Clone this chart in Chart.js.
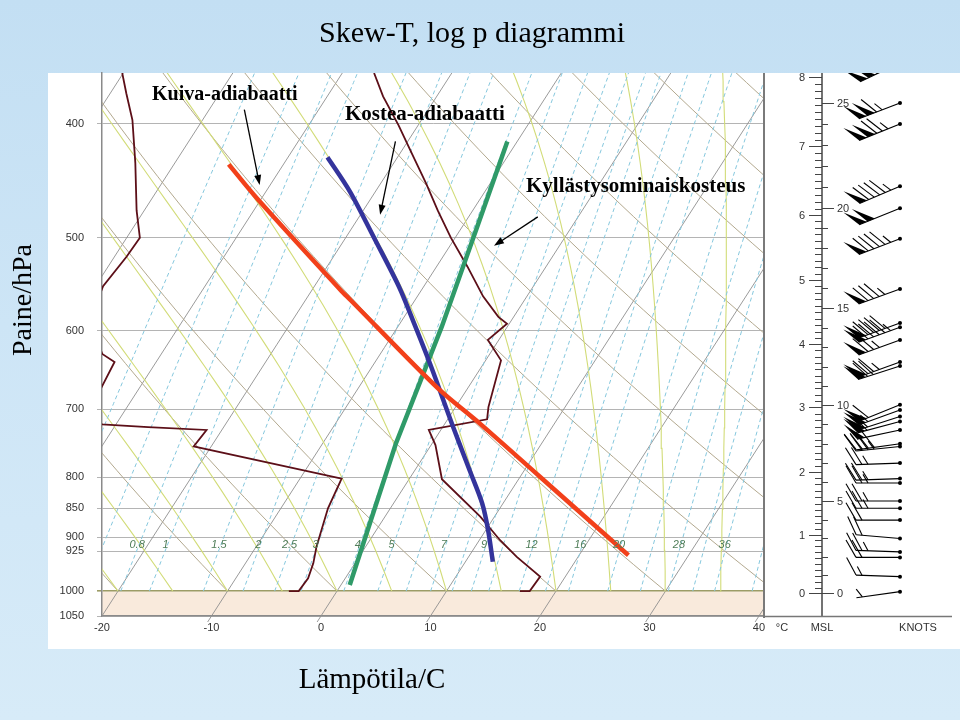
<!DOCTYPE html>
<html><head><meta charset="utf-8">
<script src="https://cdn.jsdelivr.net/npm/chart.js@4.4.1/dist/chart.umd.min.js"></script>
<style>
html,body{margin:0;padding:0;}
body{width:960px;height:720px;position:relative;overflow:hidden;background:linear-gradient(180deg,#c3dff3 0%,#cde5f6 45%,#d7ebf8 100%);font-family:"Liberation Serif","Times New Roman",serif;}
#panel{position:absolute;left:48px;top:73px;width:912px;height:576px;background:#fff;}
#c{position:absolute;left:0;top:0;}
.t{position:absolute;white-space:nowrap;color:#000;}
.a{font-weight:bold;}
</style></head><body>
<div id="panel"></div>
<canvas id="c" width="960" height="720"></canvas>
<div class="t" style="left:0;width:944px;text-align:center;top:17px;font-size:30px;line-height:30px;">Skew-T, log p diagrammi</div>
<div class="t" style="left:22px;top:300px;font-size:28px;line-height:28px;transform:translate(-50%,-50%) rotate(-90deg);">Paine/hPa</div>
<div class="t" style="left:0;width:744px;text-align:center;top:664px;font-size:29px;line-height:29px;">Lämpötila/C</div>
<div class="t a" style="left:152px;top:83px;font-size:20px;line-height:20px;">Kuiva-adiabaatti</div>
<div class="t a" style="left:345px;top:103px;font-size:21px;line-height:21px;">Kostea-adiabaatti</div>
<div class="t a" style="left:526px;top:175px;font-size:21px;line-height:21px;">Kyllästysominaiskosteus</div>
<script>
// ---------- data ----------
const pressureTicks = [400, 500, 600, 700, 800, 850, 900, 925, 1000, 1050];
const tempTicks = [-20, -10, 0, 10, 20, 30, 40];

// sounding temperature (hPa, °C)
const tempP = [362, 379, 401, 424, 450, 474, 500, 529, 561, 584, 592, 611, 636, 697, 714, 729, 751, 803, 864, 905, 935, 972, 1000, 1000];
const tempT = [-27.1, -24.9, -21.8, -18.9, -15.8, -13.2, -10.4, -7.2, -4.0, -1.4, -0.2, -1.0, 1.4, 3.0, 3.6, -1.1, 0.4, 3.0, 8.7, 11.9, 14.4, 17.7, 17.6, 16.7];
// sounding dew point (hPa, °C)
const dewP = [362, 377, 397, 432, 474, 500, 519, 550, 588, 628, 638, 670, 694, 721, 725, 729, 753, 802, 850, 916, 947, 975, 1000, 1000];
const dewT = [-50.1, -48.5, -46.4, -43.6, -40.7, -38.8, -38.9, -39.3, -38.5, -35.4, -33.8, -33.5, -33.3, -31.3, -26.9, -21.4, -21.6, -6.2, -5.7, -4.5, -3.8, -3.4, -3.5, -4.4];

// highlighted example lines
const dryExP = [433, 463, 554, 565, 672, 720, 799, 932];
const dryExT = [-35.0, -30.4, -17.4, -15.9, -2.7, 3.2, 11.8, 24.5];
const moistExP = [427, 457, 502, 551, 588, 640, 724, 789, 842, 887, 944];
const moistExT = [-26.4, -22.3, -17.2, -12.2, -9.0, -4.9, 0.9, 5.0, 8.1, 10.2, 12.5];
const mixExP = [414, 498, 595, 749, 988];
const mixExT = [-10.9, -8.4, -6.0, -3.3, 0.8];

// background line families
const isothermTemps = [-60, -50, -40, -30, -20, -10, 0, 10, 20, 30, 40];
const dryAdiabatThetas = [-20, -10, 0, 10, 20, 30, 40, 50, 60, 70, 80, 90, 100, 110];
const moistAdiabatThetas = [-20, -15, -10, -5, 0, 5, 10, 15, 20, 25, 30, 35, 40];
const mixingRatios = [0.4, 0.6, 0.8, 1, 1.5, 2, 2.5, 3, 4, 5, 6, 7, 8, 9, 10, 12, 14, 16, 20, 24, 28, 32, 36, 44];
const mixingLabels = [0.8, 1, 1.5, 2, 2.5, 3, 4, 5, 7, 9, 12, 16, 20, 28, 36];
const mixingLabelP = 913;

// height scale (labels and the pressure level where each sits)
const heightKm = [0, 1, 2, 3, 4, 5, 6, 7, 8];
const heightKmP = [1004, 895, 791, 697, 616, 543, 478, 418, 365];
const heightKft = [0, 5, 10, 15, 20, 25];
const heightKftP = [1004, 838, 694, 574, 472, 384];

// wind barbs
const windP = [355, 384, 400, 452, 472, 501, 553, 591, 596, 611, 638, 643, 694, 701, 710, 717, 729, 749, 753, 778, 802, 809, 838, 850, 870, 902, 926, 936, 972, 1001];
const windSpd = [110, 115, 125, 95, 100, 95, 85, 90, 95, 75, 75, 70, 60, 55, 55, 55, 50, 40, 35, 25, 25, 25, 25, 25, 20, 20, 25, 20, 15, 5];
const windDir = [245, 249, 248, 247, 248, 249, 250, 250, 250, 250, 250, 252, 248, 250, 252, 255, 258, 262, 264, 268, 268, 270, 270, 270, 270, 275, 272, 270, 272, 262];

// annotation arrows in skewed-temperature / pressure coordinates
const arrowsFrom = [[-7.0, 389], [6.8, 414], [19.8, 480]];
const arrowsTo = [[-5.6, 451], [5.4, 478], [15.8, 508]];

// ---------- diagram geometry ----------
const SKEW = 30, PREF = 1050, PTOP = 362;
const skewX = (T, p) => T + SKEW * Math.log(PREF / p);
const toPts = (P, T) => P.map((p, i) => ({x: skewX(T[i], p), y: p}));

function logRange(p0, p1, n) { const a = []; for (let i = 0; i <= n; i++) a.push(p0 * Math.pow(p1 / p0, i / n)); return a; }
function isoLine(t) { return [{x: skewX(t, 1078), y: 1078}, {x: skewX(t, 350), y: 350}]; }
function dryLine(th) { return logRange(1000, 350, 40).map(p => { const T = (th + 273.15) * Math.pow(p / 1000, 0.2857) - 273.15; return {x: skewX(T, p), y: p}; }); }
function mixLine(w) { return logRange(1000, 350, 20).map(p => { const e = w * p / (622 + w); const l = Math.log(e / 6.112); const T = 243.5 * l / (17.67 - l); return {x: skewX(T, p), y: p}; }); }
function moistLine(thw) {
  const f = (T, lnp) => { const p = Math.exp(lnp); const tc = T - 273.15; const es = 6.112 * Math.exp(17.67 * tc / (tc + 243.5)); const rs = 0.622 * es / (p - es);
    return (287.04 * T + 2.501e6 * rs) / (1005.7 + 2.501e6 * 2.501e6 * rs * 0.622 / (287.04 * T * T)); };
  const pts = [{x: skewX(thw, 1000), y: 1000}];
  let T = thw + 273.15, lnp = Math.log(1000); const end = Math.log(350), h = -0.005; let i = 0;
  while (lnp > end) { const k1 = f(T, lnp); const k2 = f(T + h * k1 / 2, lnp + h / 2); T += h * k2; lnp += h; i++;
    if (i % 8 === 0) pts.push({x: skewX(T - 273.15, Math.exp(lnp)), y: Math.exp(lnp)}); }
  return pts;
}

const base = {showLine: true, pointRadius: 0, fill: false};
const datasets = [];
datasets.push({...base, data: toPts(dryExP, dryExT), borderColor: '#f2401a', borderWidth: 4.5, order: 0, tension: 0.3});
datasets.push({...base, data: toPts(moistExP, moistExT), borderColor: '#34349c', borderWidth: 4.5, order: 0, tension: 0.3});
datasets.push({...base, data: toPts(mixExP, mixExT), borderColor: '#2f9a68', borderWidth: 4.5, order: 0});
datasets.push({...base, data: toPts(tempP, tempT), borderColor: '#5c0f18', borderWidth: 1.8, order: 1});
datasets.push({...base, data: toPts(dewP, dewT), borderColor: '#5c0f18', borderWidth: 1.8, order: 1});
mixingRatios.forEach(w => datasets.push({...base, data: mixLine(w), borderColor: '#86c8de', borderWidth: 1, borderDash: [4, 3], order: 2}));
moistAdiabatThetas.forEach(t => datasets.push({...base, data: moistLine(t), borderColor: '#d2dc78', borderWidth: 1.1, order: 3}));
dryAdiabatThetas.forEach(t => datasets.push({...base, data: dryLine(t), borderColor: '#b3a98f', borderWidth: 1, order: 4}));
isothermTemps.forEach(t => datasets.push({...base, data: isoLine(t), borderColor: '#8e8e8e', borderWidth: 0.9, order: 5, clip: {left: 0, top: 0, right: 0, bottom: 6}}));

function arrow(ctx, x1, y1, x2, y2) {
  const ang = Math.atan2(y2 - y1, x2 - x1), L = 10, W = 3.5;
  ctx.beginPath(); ctx.moveTo(x1, y1); ctx.lineTo(x2 - Math.cos(ang) * 6, y2 - Math.sin(ang) * 6); ctx.stroke();
  ctx.beginPath(); ctx.moveTo(x2, y2);
  ctx.lineTo(x2 - L * Math.cos(ang) + W * Math.sin(ang), y2 - L * Math.sin(ang) - W * Math.cos(ang));
  ctx.lineTo(x2 - L * Math.cos(ang) - W * Math.sin(ang), y2 - L * Math.sin(ang) + W * Math.cos(ang));
  ctx.closePath(); ctx.fill();
}
function barb(ctx, sx, sy, spd, dir) {
  const r = dir * Math.PI / 180, ux = Math.sin(r), uy = -Math.cos(r), L = 44;
  const tx = sx + ux * L, ty = sy + uy * L, a = Math.PI / 3;
  const fx = ux * Math.cos(a) - uy * Math.sin(a), fy = ux * Math.sin(a) + uy * Math.cos(a);
  ctx.beginPath(); ctx.moveTo(sx, sy); ctx.lineTo(tx, ty); ctx.stroke();
  ctx.beginPath(); ctx.arc(sx, sy, 2, 0, Math.PI * 2); ctx.fill();
  let s = Math.round(spd / 5) * 5, pos = 0; const fl = 20, step = 6;
  while (s >= 50) { const ax = tx - ux * pos, ay = ty - uy * pos, bx = tx - ux * (pos + 8), by = ty - uy * (pos + 8);
    ctx.beginPath(); ctx.moveTo(ax, ay); ctx.lineTo(ax + fx * fl, ay + fy * fl); ctx.lineTo(bx, by); ctx.closePath(); ctx.fill(); pos += 9; s -= 50; }
  if (pos > 0) pos += 1;
  while (s >= 10) { const ax = tx - ux * pos, ay = ty - uy * pos; ctx.beginPath(); ctx.moveTo(ax, ay); ctx.lineTo(ax + fx * fl, ay + fy * fl); ctx.stroke(); pos += step; s -= 10; }
  if (s >= 5) { if (pos === 0) pos = step; const ax = tx - ux * pos, ay = ty - uy * pos; ctx.beginPath(); ctx.moveTo(ax, ay); ctx.lineTo(ax + fx * fl / 2, ay + fy * fl / 2); ctx.stroke(); }
}

const skewPlugin = {
  id: 'skew',
  beforeDraw(chart) {
    const {ctx, chartArea: a, scales: {y}} = chart;
    ctx.save();
    ctx.fillStyle = '#ffffff'; ctx.fillRect(a.left, a.top, a.right - a.left, a.bottom - a.top);
    const y1 = y.getPixelForValue(1000), y2 = y.getPixelForValue(1050);
    ctx.fillStyle = '#f9eadc'; ctx.fillRect(a.left, y1, a.right - a.left, y2 - y1);
    ctx.restore();
  },
  afterDatasetsDraw(chart) {
    const {ctx, scales: {x, y}} = chart;
    ctx.save();
    ctx.font = 'italic 11px "Liberation Sans", Arial'; ctx.fillStyle = '#4f7d58'; ctx.textAlign = 'center'; ctx.textBaseline = 'middle';
    mixingLabels.forEach(w => { const e = w * mixingLabelP / (622 + w); const l = Math.log(e / 6.112); const T = 243.5 * l / (17.67 - l);
      ctx.fillText(String(w), x.getPixelForValue(skewX(T, mixingLabelP)) - 2, y.getPixelForValue(mixingLabelP)); });
    ctx.restore();
  },
  afterDraw(chart) {
    const {ctx, chartArea: a, scales: {x, y}} = chart;
    ctx.save();
    ctx.strokeStyle = '#7a7a7a'; ctx.lineWidth = 2;
    ctx.beginPath(); ctx.moveTo(a.right, a.top); ctx.lineTo(a.right, a.bottom + 2); ctx.stroke();
    ctx.strokeStyle = '#000'; ctx.fillStyle = '#000'; ctx.lineWidth = 1.3;
    arrowsFrom.forEach((f, i) => { const t = arrowsTo[i];
      arrow(ctx, x.getPixelForValue(f[0]), y.getPixelForValue(f[1]), x.getPixelForValue(t[0]), y.getPixelForValue(t[1])); });
    const ax = a.right + 58;
    ctx.strokeStyle = '#444'; ctx.lineWidth = 1.5;
    ctx.beginPath(); ctx.moveTo(ax, a.top); ctx.lineTo(ax, a.bottom); ctx.stroke();
    ctx.strokeStyle = '#777';
    ctx.beginPath(); ctx.moveTo(a.right, a.bottom + 0.5); ctx.lineTo(a.right + 188, a.bottom + 0.5); ctx.stroke();
    ctx.strokeStyle = '#444'; ctx.lineWidth = 1; ctx.fillStyle = '#333';
    ctx.font = '11px "Liberation Sans", Arial'; ctx.textBaseline = 'middle';
    ctx.textAlign = 'right';
    heightKm.forEach((k, i) => { const yy = Math.round(y.getPixelForValue(heightKmP[i])) + 0.5;
      ctx.beginPath(); ctx.moveTo(ax - 13, yy); ctx.lineTo(ax, yy); ctx.stroke(); ctx.fillText(String(k), ax - 17, yy);
      if (i < heightKm.length - 1) { const y2 = y.getPixelForValue(heightKmP[i + 1]);
        for (let j = 1; j < 10; j++) { const ym = Math.round(yy + (y2 - yy) * j / 10) + 0.5; ctx.beginPath(); ctx.moveTo(ax - 7, ym); ctx.lineTo(ax, ym); ctx.stroke(); } } });
    ctx.textAlign = 'left';
    heightKft.forEach((k, i) => { const yy = Math.round(y.getPixelForValue(heightKftP[i])) + 0.5;
      ctx.beginPath(); ctx.moveTo(ax, yy); ctx.lineTo(ax + 12, yy); ctx.stroke(); ctx.fillText(String(k), ax + 15, yy);
      if (i < heightKft.length - 1) { const y2 = y.getPixelForValue(heightKftP[i + 1]);
        for (let j = 1; j < 5; j++) { const ym = Math.round(yy + (y2 - yy) * j / 5) + 0.5; ctx.beginPath(); ctx.moveTo(ax, ym); ctx.lineTo(ax + 6, ym); ctx.stroke(); } } });
    ctx.textAlign = 'center';
    const ly = a.bottom + 12;
    ctx.fillText('°C', a.right + 18, ly);
    ctx.fillText('MSL', ax, ly);
    ctx.fillText('KNOTS', a.right + 154, ly);
    ctx.beginPath(); ctx.rect(a.right + 2, a.top, 196, a.bottom - a.top); ctx.clip();
    ctx.strokeStyle = '#000'; ctx.fillStyle = '#000'; ctx.lineWidth = 1.1;
    windP.forEach((p, i) => barb(ctx, a.right + 136, y.getPixelForValue(p), windSpd[i], windDir[i]));
    ctx.restore();
  }
};

new Chart(document.getElementById('c'), {
  type: 'scatter',
  data: {datasets},
  options: {
    responsive: false, animation: false, devicePixelRatio: 1, events: [],
    layout: {padding: {left: 40, right: 196, top: 73, bottom: 80}},
    plugins: {legend: {display: false}, tooltip: {enabled: false}},
    scales: {
      x: {type: 'linear', min: -20, max: 40.46,
        afterBuildTicks: s => { s.ticks = tempTicks.map(v => ({value: v})); },
        afterFit: s => { s.height = 24; },
        grid: {display: false, drawTicks: false},
        border: {display: true, color: '#8a8a8a', width: 1.5},
        ticks: {color: '#333', font: {family: '"Liberation Sans", Arial', size: 11}, padding: 5, maxRotation: 0, autoSkip: false, callback: v => String(v)}},
      y: {type: 'logarithmic', reverse: true, min: PTOP, max: PREF,
        afterBuildTicks: s => { s.ticks = pressureTicks.map(v => ({value: v})); },
        afterFit: s => { s.width = 62; },
        grid: {color: c => (c.tick && c.tick.value === 1000) ? '#9c9c66' : '#b4b4b4', lineWidth: c => (c.tick && c.tick.value === 1000) ? 1.6 : 1, tickLength: 5},
        border: {display: true, color: '#8a8a8a', width: 1.5},
        ticks: {color: '#333', font: {family: '"Liberation Sans", Arial', size: 11}, padding: 13, autoSkip: false, callback: v => String(v)}}
    }
  },
  plugins: [skewPlugin]
});
</script>
</body></html>
